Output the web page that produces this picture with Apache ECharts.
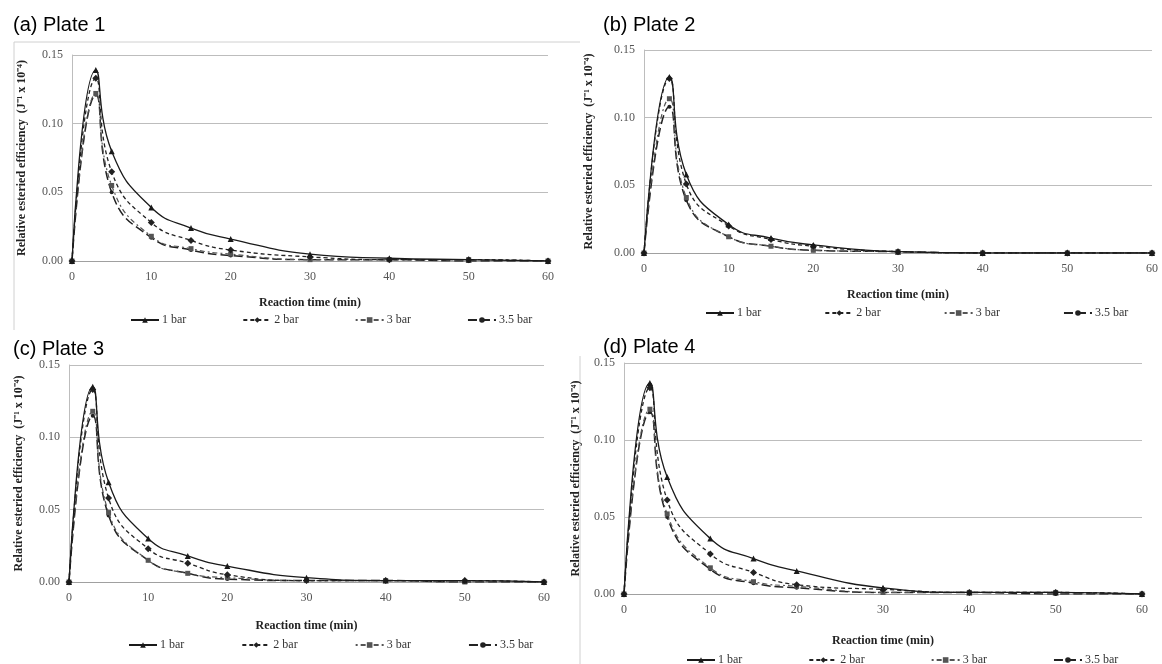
<!DOCTYPE html>
<html>
<head>
<meta charset="utf-8">
<script src="https://cdn.jsdelivr.net/npm/echarts@6/dist/echarts.min.js"></script>
<style>
html, body { margin: 0; padding: 0; background: #fff; }
#chart { width: 1162px; height: 664px; }
</style>
</head>
<body>
<div id="chart"></div>
<script>
// reaction time (min)
var times = [0, 3, 5, 10, 15, 20, 30, 40, 50, 60];
var pressures = ['1 bar', '2 bar', '3 bar', '3.5 bar'];
var yTicks = [0, 0.05, 0.10, 0.15];

// relative esteried efficiency, one row per pressure
var plate1 = [
    [0, 0.139, 0.080, 0.039, 0.024, 0.016, 0.005, 0.002, 0.001, 0.000],
    [0, 0.133, 0.065, 0.028, 0.015, 0.008, 0.003, 0.001, 0.001, 0.000],
    [0, 0.122, 0.055, 0.018, 0.009, 0.005, 0.001, 0.001, 0.001, 0.000],
    [0, 0.121, 0.050, 0.017, 0.008, 0.004, 0.001, 0.001, 0.000, 0.000]
];
var plate2 = [
    [0, 0.130, 0.058, 0.021, 0.011, 0.006, 0.001, 0.000, 0.000, 0.000],
    [0, 0.129, 0.051, 0.020, 0.010, 0.005, 0.001, 0.000, 0.000, 0.000],
    [0, 0.114, 0.041, 0.012, 0.005, 0.002, 0.001, 0.000, 0.000, 0.000],
    [0, 0.108, 0.039, 0.012, 0.005, 0.002, 0.001, 0.000, 0.000, 0.000]
];
var plate3 = [
    [0, 0.135, 0.069, 0.030, 0.018, 0.011, 0.003, 0.001, 0.001, 0.000],
    [0, 0.133, 0.058, 0.023, 0.013, 0.005, 0.001, 0.001, 0.001, 0.000],
    [0, 0.118, 0.048, 0.015, 0.006, 0.003, 0.001, 0.001, 0.000, 0.000],
    [0, 0.115, 0.046, 0.015, 0.006, 0.002, 0.001, 0.001, 0.000, 0.000]
];
var plate4 = [
    [0, 0.137, 0.076, 0.036, 0.023, 0.015, 0.004, 0.001, 0.001, 0.000],
    [0, 0.134, 0.061, 0.026, 0.014, 0.006, 0.003, 0.001, 0.001, 0.000],
    [0, 0.120, 0.052, 0.017, 0.008, 0.005, 0.001, 0.001, 0.001, 0.000],
    [0, 0.118, 0.050, 0.016, 0.007, 0.004, 0.001, 0.001, 0.000, 0.000]
];
var plates = [plate1, plate2, plate3, plate4];
var plateTitles = ['(a) Plate 1', '(b) Plate 2', '(c) Plate 3', '(d) Plate 4'];

var serif = '"Liberation Serif", "Times New Roman", serif';

// panel layout
var panels = [
    {title: [8, 10],   grid: [72, 55, 476, 206],  xGap: 36, yGap: 44, legend: [125, 309], legendGap: 56},
    {title: [598, 10], grid: [644, 50, 508, 203], xGap: 36, yGap: 49, legend: [700, 302], legendGap: 63},
    {title: [8, 334],  grid: [69, 365, 475, 217], xGap: 38, yGap: 44, legend: [123, 634], legendGap: 57},
    {title: [598, 332],grid: [624, 363, 518, 231],xGap: 41, yGap: 42, legend: [681, 649], legendGap: 66}
];

var styles = [
    {symbol: 'triangle', size: 6, type: 'solid',   color: '#1a1a1a', width: 1.3},
    {symbol: 'diamond',  size: 7, type: [4, 3],     color: '#222', width: 1.3},
    {symbol: 'rect',     size: 5, type: [2, 3, 5, 3], color: '#555', width: 1.2},
    {symbol: 'circle',   size: 4, type: [9, 4],     color: '#222', width: 1.5}
];

var titles = [], grids = [], xAxes = [], yAxes = [], legends = [], series = [];

panels.forEach(function (p, i) {
    titles.push({
        text: plateTitles[i], left: p.title[0], top: p.title[1],
        textStyle: {fontFamily: '"Liberation Sans", Arial, sans-serif', fontSize: 20, fontWeight: 'normal', color: '#000'}
    });
    grids.push({left: p.grid[0], top: p.grid[1], width: p.grid[2], height: p.grid[3]});
    xAxes.push({
        type: 'value', gridIndex: i, min: 0, max: 60, interval: 10,
        name: 'Reaction time (min)', nameLocation: 'middle', nameGap: p.xGap,
        nameTextStyle: {fontFamily: serif, fontSize: 12, fontWeight: 'bold', color: '#222'},
        axisLine: {show: true, lineStyle: {color: '#a0a0a0'}},
        axisTick: {show: false},
        axisLabel: {fontFamily: serif, fontSize: 12, color: '#555', margin: 10},
        splitLine: {show: false}
    });
    yAxes.push({
        type: 'value', gridIndex: i, min: 0, max: 0.15, interval: 0.05,
        name: 'Relative esteried efficiency  (J\u207B\u00B9 x 10\u207B\u2074)',
        nameLocation: 'middle', nameGap: p.yGap, nameRotate: 90,
        nameTextStyle: {fontFamily: serif, fontSize: 12, fontWeight: 'bold', color: '#222'},
        axisLine: {show: true, lineStyle: {color: '#bdbdbd'}},
        axisTick: {show: false},
        axisLabel: {fontFamily: serif, fontSize: 12, color: '#555', margin: 9,
            formatter: function (v) { return v.toFixed(2); }},
        splitLine: {show: true, lineStyle: {color: '#bdbdbd', width: 1}}
    });
    legends.push({
        left: p.legend[0], top: p.legend[1], orient: 'horizontal',
        itemGap: p.legendGap, itemWidth: 28, itemHeight: 7,
        data: pressures.slice(),
        textStyle: {fontFamily: serif, fontSize: 12, color: '#333', padding: [0, 0, 0, -2]},
        selectedMode: false
    });
    plates[i].forEach(function (vals, k) {
        var s = styles[k];
        series.push({
            name: pressures[k], type: 'line', xAxisIndex: i, yAxisIndex: i,
            smooth: 0.5,
            symbol: s.symbol, symbolSize: s.size,
            itemStyle: {color: s.color},
            lineStyle: {color: s.color, type: s.type, width: s.width},
            data: times.map(function (t, j) { return [t, vals[j]]; }),
            z: 10 - k
        });
    });
});

var chart = echarts.init(document.getElementById('chart'));
chart.setOption({
    backgroundColor: '#fff',
    animation: false,
    title: titles,
    grid: grids,
    xAxis: xAxes,
    yAxis: yAxes,
    legend: legends,
    series: series,
    graphic: [
        {type: 'polyline', shape: {points: [[14, 330], [14, 42], [580, 42]]},
            style: {fill: 'none', stroke: '#d0d0d0', lineWidth: 1}, silent: true},
        {type: 'line', shape: {x1: 580, y1: 356, x2: 580, y2: 664},
            style: {stroke: '#d0d0d0', lineWidth: 1}, silent: true}
    ]
});
</script>
</body>
</html>
